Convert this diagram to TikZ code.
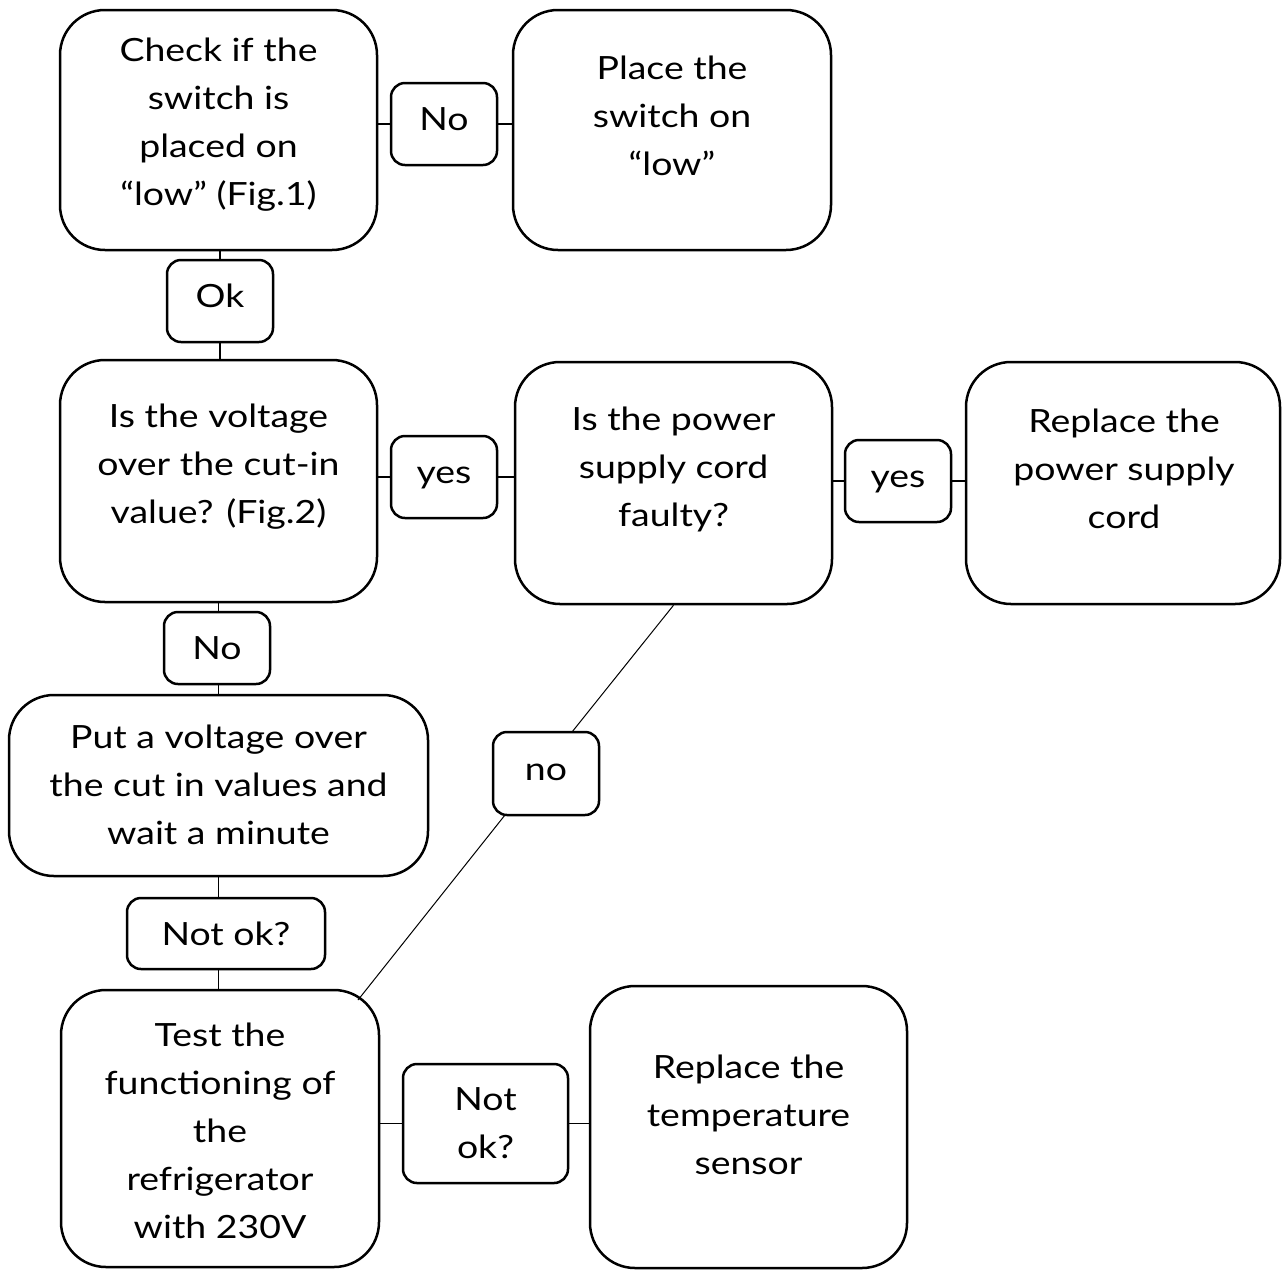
\documentclass[tikz,border=0pt]{standalone}
\usepackage{fontspec}
\setmainfont[FakeStretch=1.17]{Lato}
\begin{document}
\begin{tikzpicture}[x=1pt,y=-1pt,
  bigbox/.style={draw, line width=2.5pt, rounded corners=45pt, inner sep=0pt},
  lbl/.style={draw, line width=2.5pt, rounded corners=14pt, inner sep=0pt, font=\fontsize{32}{48}\selectfont, align=center},
  lift/.style={text height=23pt, text depth=10pt},
  txt/.style={font=\fontsize{32}{48}\selectfont, align=center, inner sep=0pt},
  conn/.style={line width=1.4pt}]
\useasboundingbox (0,0) rectangle (1282,1270);
% big boxes
\node[bigbox, minimum width=317pt, minimum height=240pt] (chk) at (218.5,130) {};
\node[bigbox, minimum width=318pt, minimum height=240pt] (plc) at (672,130) {};
\node[bigbox, minimum width=317pt, minimum height=242pt] (vol) at (218.5,481) {};
\node[bigbox, minimum width=317pt, minimum height=242pt] (pw) at (673.5,483) {};
\node[bigbox, minimum width=314pt, minimum height=242pt] (rpw) at (1123,483) {};
\node[bigbox, minimum width=419pt, minimum height=181pt] (put) at (218.5,785.5) {};
\node[bigbox, minimum width=318pt, minimum height=277pt] (tst) at (220,1128.5) {};
\node[bigbox, minimum width=317pt, minimum height=282pt] (rts) at (748.5,1127) {};
% texts
\node[txt] (tchk) at (218.5,125) {Check if the\\switch is\\placed on\\“low” (Fig.1)};
\node[txt] (tplc) at (672,116) {Place the\\switch on\\“low”};
\node[txt] (tvol) at (218.5,467) {Is the voltage\\over the cut-in\\value? (Fig.2)};
\node[txt] (tpw) at (673.5,469) {Is the power\\supply cord\\faulty?};
\node[txt] (trpw) at (1124,469) {Replace the\\power supply\\cord};
\node[txt] (tput) at (218.5,785) {Put a voltage over\\the cut in values and\\wait a minute};
\node[txt] (ttst) at (220,1131) {Test the\\functioning of\\the\\refrigerator\\with 230V};
\node[txt] (trts) at (748.5,1115) {Replace the\\temperature\\sensor};
% labels
\node[lbl, lift, minimum width=106pt, minimum height=82pt] (lno1) at (444,124) {No};
\node[lbl, lift, minimum width=106pt, minimum height=82pt] (lok) at (220,301) {Ok};
\node[lbl, lift, minimum width=106pt, minimum height=82pt] (lyes1) at (444,477) {yes};
\node[lbl, lift, minimum width=106pt, minimum height=82pt] (lyes2) at (898,481) {yes};
\node[lbl, minimum width=106pt, minimum height=72pt] (lno2) at (217,648) {No};
\node[lbl, lift, minimum width=106pt, minimum height=83pt] (lno3) at (546,773.5) {no};
\node[lbl, minimum width=198pt, minimum height=71pt] (lnok1) at (226,933.5) {Not ok?};
\node[lbl, minimum width=165pt, minimum height=119pt] (lnok2) at (485.5,1123.5) {Not\\ok?};
\coordinate (tc) at (358,1000);
% connectors
\draw[conn] (chk.east |- lno1) -- (lno1.west);
\draw[conn] (lno1.east) -- (plc.west |- lno1.east);
\draw[conn] (chk.south -| lok.north) -- (lok.north);
\draw[conn] (lok.south) -- (vol.north -| lok.south);
\draw[conn] (vol.east |- lyes1) -- (lyes1.west);
\draw[conn] (lyes1.east) -- (pw.west |- lyes1.east);
\draw[conn] (pw.east |- lyes2) -- (lyes2.west);
\draw[conn] (lyes2.east) -- (rpw.west |- lyes2.east);
\draw[conn] (vol.south) -- (lno2.north -| vol.south);
\draw[conn] (lno2.south -| put.south) -- (put.north);
\draw[conn] (put.south) -- (lnok1.north -| put.south);
\draw[conn] (lnok1.south -| put.south) -- (tst.north -| put.south);
\draw[conn] (tst.east |- lnok2) -- (lnok2.west);
\draw[conn] (lnok2.east) -- (rts.west |- lnok2.east);
\draw[conn, line width=1pt] (pw.south) -- (572,732);
\draw[conn, line width=1pt] (505,815) -- (tc);
\end{tikzpicture}
\end{document}
